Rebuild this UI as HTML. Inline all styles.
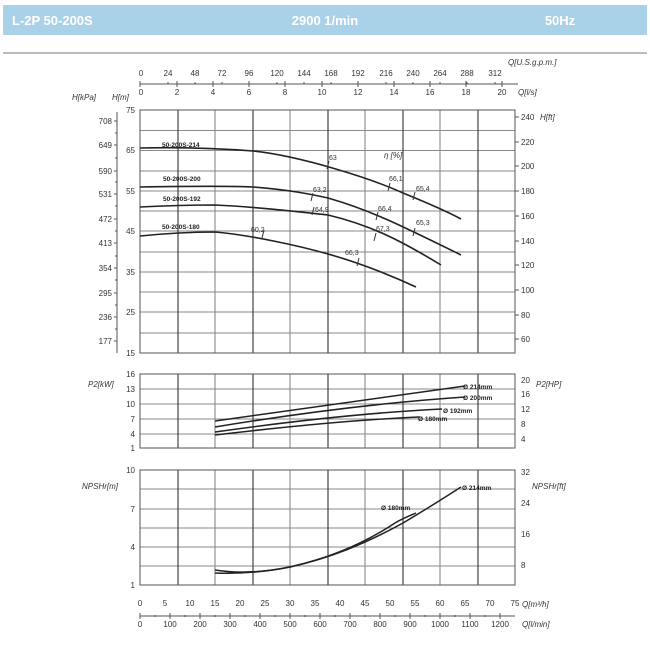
<!DOCTYPE html>
<html><head><meta charset="utf-8"><style>
body{margin:0;background:#fff;width:650px;height:650px;overflow:hidden;font-family:"Liberation Sans",sans-serif}
</style></head><body>
<svg width="650" height="650" viewBox="0 0 650 650" xmlns="http://www.w3.org/2000/svg" font-family="Liberation Sans, sans-serif">
<rect x="3" y="5" width="644" height="30" fill="#a9d1e7"/>
<text x="12" y="25" font-size="13" font-weight="bold" fill="#fff">L-2P 50-200S</text>
<text x="325" y="25" font-size="13" font-weight="bold" fill="#fff" text-anchor="middle">2900 1/min</text>
<text x="560" y="25" font-size="13" font-weight="bold" fill="#fff" text-anchor="middle">50Hz</text>
<line x1="3" y1="53" x2="647" y2="53" stroke="#777" stroke-width="1"/>

<g font-size="8" fill="#333">
<text x="508" y="65" font-style="italic">Q[U.S.g.p.m.]</text>
<g text-anchor="middle">
<text x="141" y="76">0</text><text x="168" y="76">24</text><text x="195" y="76">48</text><text x="222" y="76">72</text><text x="249" y="76">96</text><text x="277" y="76">120</text><text x="304" y="76">144</text><text x="331" y="76">168</text><text x="358" y="76">192</text><text x="386" y="76">216</text><text x="413" y="76">240</text><text x="440" y="76">264</text><text x="467" y="76">288</text><text x="495" y="76">312</text>
<text x="141" y="95">0</text><text x="177" y="95">2</text><text x="213" y="95">4</text><text x="249" y="95">6</text><text x="285" y="95">8</text><text x="322" y="95">10</text><text x="358" y="95">12</text><text x="394" y="95">14</text><text x="430" y="95">16</text><text x="466" y="95">18</text><text x="502" y="95">20</text>
</g>
<text x="518" y="95" font-style="italic">Q[l/s]</text>
<text x="72" y="100" font-style="italic">H[kPa]</text><text x="112" y="100" font-style="italic">H[m]</text>
<text x="540" y="120" font-style="italic">H[ft]</text>
</g>
<line x1="140" y1="84" x2="518" y2="84" stroke="#555"/>
<g stroke="#555">
<path d="M140 81v6M177 81v6M213 81v6M249 81v6M285 81v6M322 81v6M358 81v6M394 81v6M430 81v6M466 81v6M502 81v6"/>
<path d="M168 82v2M195 82v2M222 82v2M249 82v2M277 82v2M304 82v2M331 82v2M358 82v2M386 82v2M413 82v2M440 82v2M467 82v2M495 82v2"/>
</g>

<g stroke="#8a8a8a" stroke-width="1.1">
<path d="M140 130.5H515M140 150.5H515M140 171H515M140 191H515M140 211H515M140 231H515M140 252H515M140 272H515M140 292H515M140 312H515M140 333H515"/>
<path d="M215 110V353M290 110V353M365 110V353M440 110V353"/>
</g>
<g stroke="#333" stroke-width="1.1">
<path d="M178 110V353M253 110V353M328 110V353M403 110V353M478 110V353"/>
</g>
<rect x="140" y="110" width="375" height="243" fill="none" stroke="#555" stroke-width="1"/>
<line x1="117" y1="112" x2="117" y2="353" stroke="#555"/>
<g font-size="8" fill="#333" text-anchor="end">
<text x="135" y="113">75</text><text x="135" y="153">65</text><text x="135" y="194">55</text><text x="135" y="234">45</text><text x="135" y="275">35</text><text x="135" y="315">25</text><text x="135" y="356">15</text>
<text x="112" y="124">708</text><text x="112" y="148">649</text><text x="112" y="174">590</text><text x="112" y="197">531</text><text x="112" y="222">472</text><text x="112" y="246">413</text><text x="112" y="271">354</text><text x="112" y="296">295</text><text x="112" y="320">236</text><text x="112" y="344">177</text>
</g>
<g stroke="#555"><path d="M114 121h3M114 145h3M114 171h3M114 194h3M114 219h3M114 243h3M114 268h3M114 293h3M114 317h3M114 341h3M115 133h2M115 158h2M115 182h2M115 206h2M115 231h2M115 256h2M115 280h2M115 305h2M115 329h2"/>
<path d="M515 117h4M515 142h4M515 166h4M515 191h4M515 216h4M515 241h4M515 265h4M515 290h4M515 315h4M515 339h4"/></g>
<g font-size="8" fill="#333">
<text x="521" y="120">240</text><text x="521" y="145">220</text><text x="521" y="169">200</text><text x="521" y="194">180</text><text x="521" y="219">160</text><text x="521" y="244">140</text><text x="521" y="268">120</text><text x="521" y="293">100</text><text x="521" y="318">80</text><text x="521" y="342">60</text>
</g>

<g fill="none" stroke="#222" stroke-width="1.6">
<path d="M140 148 C180 147 215 148 253 151 C300 156 370 178 403 193 C430 204 450 213 461 219"/>
<path d="M140 187 C200 186 230 186 253 187 C290 190 310 194 328 198 C370 210 400 225 461 255"/>
<path d="M140 207 C180 205 200 205 215 205 C260 207 300 212 328 215 C370 225 400 240 441 265"/>
<path d="M140 236 C170 233 195 232 215 232 C250 235 300 246 328 254 C360 263 390 275 416 287"/>
</g>
<g stroke="#333" stroke-width="1">
<path d="M327 169l2-8M311 201l2-8M312 215l2-8M262 238l2-8M357 266l2-8M388 191l2-8M413 200l2-8M376 220l2-8M374 241l2-8M413 236l2-8"/>
</g>
<g font-size="7" fill="#333">
<text x="329" y="160">63</text><text x="313" y="192">63,2</text><text x="315" y="212">64,9</text><text x="251" y="232">60,2</text><text x="345" y="255">66,3</text><text x="389" y="181">66,1</text><text x="416" y="191">65,4</text><text x="378" y="211">66,4</text><text x="376" y="231">67,3</text><text x="416" y="225">65,3</text>
<text x="384" y="158" font-style="italic" font-size="8">η [%]</text>
</g>
<g font-size="6.5" font-weight="bold" fill="#222">
<text x="162" y="147">50-200S-214</text><text x="163" y="181">50-200S-200</text><text x="163" y="201">50-200S-192</text><text x="162" y="229">50-200S-180</text>
</g>

<g stroke="#8a8a8a" stroke-width="1.1">
<path d="M140 389H515M140 404H515M140 419H515M140 434H515"/>
<path d="M215 374V448M290 374V448M365 374V448M440 374V448"/>
</g>
<g stroke="#333" stroke-width="1.1"><path d="M178 374V448M253 374V448M328 374V448M403 374V448M478 374V448"/></g>
<rect x="140" y="374" width="375" height="74" fill="none" stroke="#555"/>
<g font-size="8" fill="#333" text-anchor="end">
<text x="135" y="377">16</text><text x="135" y="392">13</text><text x="135" y="407">10</text><text x="135" y="422">7</text><text x="135" y="437">4</text><text x="135" y="451">1</text>
</g>
<g font-size="8" fill="#333">
<text x="88" y="387" font-style="italic">P2[kW]</text>
<text x="521" y="383">20</text><text x="521" y="397">16</text><text x="521" y="412">12</text><text x="521" y="427">8</text><text x="521" y="442">4</text>
<text x="536" y="387" font-style="italic">P2[HP]</text>
</g>
<g fill="none" stroke="#222" stroke-width="1.5">
<path d="M215 421 L465 386"/><path d="M215 427 C300 413 390 402 465 397"/><path d="M215 432 C300 420 380 412 442 409"/><path d="M215 435 C300 425 370 419 420 417"/>
</g>
<g font-size="6.5" font-weight="bold" fill="#222">
<text x="463" y="389">Ø 214mm</text><text x="463" y="400">Ø 200mm</text><text x="443" y="413">Ø 192mm</text><text x="418" y="421">Ø 180mm</text>
</g>

<g stroke="#8a8a8a" stroke-width="1.1">
<path d="M140 489H515M140 509H515M140 528H515M140 547H515M140 566H515"/>
<path d="M215 470V585M290 470V585M365 470V585M440 470V585"/>
</g>
<g stroke="#333" stroke-width="1.1"><path d="M178 470V585M253 470V585M328 470V585M403 470V585M478 470V585"/></g>
<rect x="140" y="470" width="375" height="115" fill="none" stroke="#555"/>
<g font-size="8" fill="#333" text-anchor="end">
<text x="135" y="473">10</text><text x="135" y="512">7</text><text x="135" y="550">4</text><text x="135" y="588">1</text>
</g>
<g font-size="8" fill="#333">
<text x="82" y="489" font-style="italic">NPSHr[m]</text>
<text x="521" y="475">32</text><text x="521" y="506">24</text><text x="521" y="537">16</text><text x="521" y="568">8</text>
<text x="532" y="489" font-style="italic">NPSHr[ft]</text>
</g>
<g fill="none" stroke="#222" stroke-width="1.5">
<path d="M215 570 C240 574 265 572 290 567 C330 558 365 544 403 523 C430 507 450 494 461 487"/>
<path d="M215 573 C240 574 265 572 290 567 C330 558 365 543 395 523 C405 517 412 515 416 513"/>
</g>
<g font-size="6.5" font-weight="bold" fill="#222">
<text x="462" y="490">Ø 214mm</text><text x="381" y="510">Ø 180mm</text>
</g>

<g font-size="8" fill="#333" text-anchor="middle">
<text x="140" y="606">0</text><text x="165" y="606">5</text><text x="190" y="606">10</text><text x="215" y="606">15</text><text x="240" y="606">20</text><text x="265" y="606">25</text><text x="290" y="606">30</text><text x="315" y="606">35</text><text x="340" y="606">40</text><text x="365" y="606">45</text><text x="390" y="606">50</text><text x="415" y="606">55</text><text x="440" y="606">60</text><text x="465" y="606">65</text><text x="490" y="606">70</text><text x="515" y="606">75</text>
<text x="140" y="627">0</text><text x="170" y="627">100</text><text x="200" y="627">200</text><text x="230" y="627">300</text><text x="260" y="627">400</text><text x="290" y="627">500</text><text x="320" y="627">600</text><text x="350" y="627">700</text><text x="380" y="627">800</text><text x="410" y="627">900</text><text x="440" y="627">1000</text><text x="470" y="627">1100</text><text x="500" y="627">1200</text>
</g>
<g font-size="8" fill="#333" font-style="italic"><text x="522" y="607">Q[m³/h]</text><text x="522" y="627">Q[l/min]</text></g>
<line x1="140" y1="616" x2="515" y2="616" stroke="#555"/>
<g stroke="#555"><path d="M140 613v6M170 613v6M200 613v6M230 613v6M260 613v6M290 613v6M320 613v6M350 613v6M380 613v6M410 613v6M440 613v6M470 613v6M500 613v6M155 615v2M185 615v2M215 615v2M245 615v2M275 615v2M305 615v2M335 615v2M365 615v2M395 615v2M425 615v2M455 615v2M485 615v2"/></g>
</svg>
</body></html>
